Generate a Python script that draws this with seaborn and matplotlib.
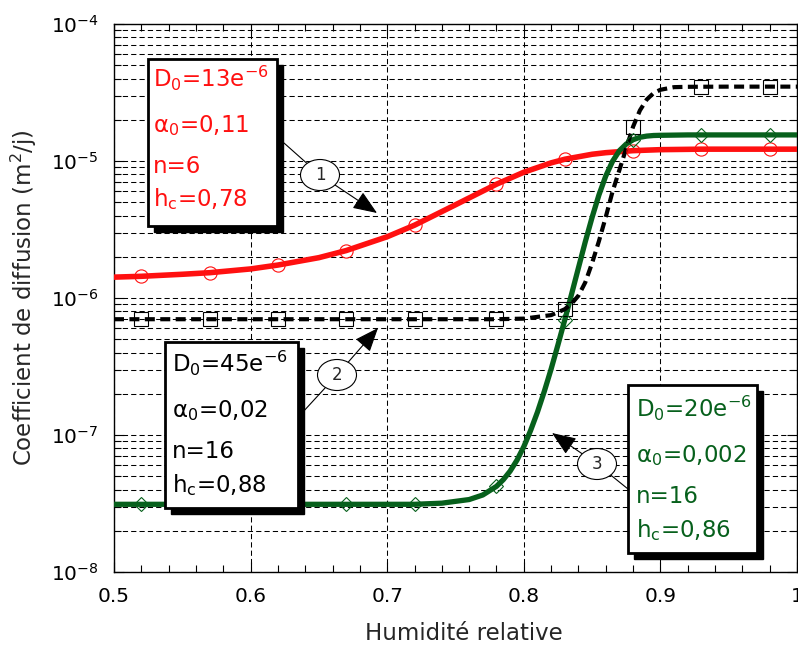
import math
import seaborn as sns
import matplotlib.pyplot as plt
from matplotlib.patches import Rectangle, Ellipse, FancyArrowPatch
from matplotlib.lines import Line2D
from matplotlib.ticker import MultipleLocator, LogLocator, FuncFormatter, NullFormatter

# Courbes (humidité relative -> coefficient de diffusion)
h_rouge = [0.50, 0.52, 0.55, 0.57, 0.60, 0.62, 0.65, 0.67, 0.70, 0.72, 0.75, 0.78,
           0.80, 0.82, 0.83, 0.85, 0.86, 0.88, 0.90, 0.93, 0.95, 0.98, 1.00]
d_rouge = [1.42e-6, 1.44e-6, 1.49e-6, 1.53e-6, 1.63e-6, 1.74e-6, 1.97e-6, 2.22e-6,
           2.80e-6, 3.40e-6, 4.79e-6, 6.77e-6, 8.28e-6, 9.69e-6, 1.03e-5, 1.12e-5,
           1.15e-5, 1.19e-5, 1.21e-5, 1.22e-5, 1.22e-5, 1.22e-5, 1.22e-5]

h_noir = [0.50, 0.55, 0.60, 0.65, 0.70, 0.75, 0.78, 0.80, 0.82, 0.83, 0.835, 0.84,
          0.845, 0.85, 0.855, 0.86, 0.865, 0.87, 0.875, 0.88, 0.885, 0.89, 0.895,
          0.90, 0.91, 0.92, 0.95, 0.98, 1.00]
d_noir = [7.0e-7, 7.0e-7, 7.0e-7, 7.0e-7, 7.0e-7, 7.0e-7, 7.0e-7, 7.07e-7, 7.5e-7,
          8.28e-7, 9.1e-7, 1.04e-6, 1.3e-6, 1.8e-6, 2.6e-6, 3.9e-6, 6.0e-6, 8.6e-6,
          1.24e-5, 1.78e-5, 2.34e-5, 2.81e-5, 3.13e-5, 3.31e-5, 3.46e-5, 3.48e-5,
          3.49e-5, 3.49e-5, 3.49e-5]

h_vert = [0.50, 0.55, 0.60, 0.65, 0.70, 0.72, 0.74, 0.76, 0.77, 0.78, 0.785, 0.79,
          0.795, 0.80, 0.805, 0.81, 0.815, 0.82, 0.825, 0.83, 0.835, 0.84, 0.845,
          0.85, 0.855, 0.86, 0.865, 0.87, 0.875, 0.88, 0.885, 0.89, 0.895, 0.90,
          0.92, 0.95, 0.98, 1.00]
d_vert = [3.12e-8, 3.12e-8, 3.12e-8, 3.12e-8, 3.12e-8, 3.12e-8, 3.18e-8, 3.38e-8,
          3.65e-8, 4.22e-8, 4.72e-8, 5.45e-8, 6.55e-8, 8.22e-8, 1.08e-7, 1.47e-7,
          2.08e-7, 3.03e-7, 4.55e-7, 6.93e-7, 1.07e-6, 1.66e-6, 2.57e-6, 3.88e-6,
          5.65e-6, 7.77e-6, 9.96e-6, 1.19e-5, 1.33e-5, 1.43e-5, 1.49e-5, 1.52e-5,
          1.535e-5, 1.54e-5, 1.55e-5, 1.55e-5, 1.55e-5, 1.55e-5]

# Points marqués sur les courbes
h_points = [0.52, 0.57, 0.62, 0.67, 0.72, 0.78, 0.83, 0.88, 0.93, 0.98]
rouge_points = [1.44e-6, 1.53e-6, 1.74e-6, 2.22e-6, 3.40e-6, 6.77e-6, 1.03e-5, 1.19e-5, 1.22e-5, 1.22e-5]
noir_points = [7.0e-7, 7.0e-7, 7.0e-7, 7.0e-7, 7.0e-7, 7.0e-7, 8.28e-7, 1.78e-5, 3.49e-5, 3.49e-5]
vert_points = [3.12e-8, 3.12e-8, 3.12e-8, 3.12e-8, 3.12e-8, 4.22e-8, 6.93e-7, 1.43e-5, 1.55e-5, 1.55e-5]

# Textes des encadrés
texte_1 = ["D$_0$=13e$^{-6}$", "α$_0$=0,11", "n=6", "h$_c$=0,78"]
texte_2 = ["D$_0$=45e$^{-6}$", "α$_0$=0,02", "n=16", "h$_c$=0,88"]
texte_3 = ["D$_0$=20e$^{-6}$", "α$_0$=0,002", "n=16", "h$_c$=0,86"]

ROUGE = "#ff1010"
VERT = "#07601c"
W, H = 798, 648


def P(x, y):
    # pixels (origine en haut à gauche) -> coordonnées figure
    return (x / W, 1 - y / H)


sns.set_style("ticks")
plt.rcParams["font.family"] = ["DejaVu Sans"]
plt.rcParams["mathtext.default"] = "regular"

fig = plt.figure(figsize=(W / 100, H / 100), dpi=100)
ax = fig.add_axes([114 / W, 1 - 572 / H, (797 - 114) / W, (572 - 24) / H])
ax.set_yscale("log")
ax.set_xlim(0.5, 1.0)
ax.set_ylim(1e-8, 1e-4)

# grille pointillée
grille = dict(color="black", lw=0.75, ls=(0, (5, 3)))
ax.grid(True, which="both", axis="y", **grille)
ax.grid(True, which="major", axis="x", **grille)
ax.set_axisbelow(True)

# courbes
sns.lineplot(x=h_rouge, y=d_rouge, ax=ax, color=ROUGE, lw=4, estimator=None, zorder=3)
sns.lineplot(x=h_vert, y=d_vert, ax=ax, color=VERT, lw=3.8, estimator=None, zorder=3)
sns.lineplot(x=h_noir, y=d_noir, ax=ax, color="black", lw=3, linestyle=(0, (2.4, 1.3)),
             estimator=None, zorder=4)

# marqueurs
sns.lineplot(x=h_points, y=rouge_points, ax=ax, color=ROUGE, marker="o", linestyle="",
             ms=9.5, mfc="none", mec=ROUGE, mew=0.8, estimator=None, zorder=5)
sns.lineplot(x=h_points, y=noir_points, ax=ax, color="black", marker="s", linestyle="",
             ms=10, mfc="none", mec="black", mew=0.8, estimator=None, zorder=5)
sns.lineplot(x=h_points, y=vert_points, ax=ax, color=VERT, marker="D", linestyle="",
             ms=7, mfc="none", mec=VERT, mew=0.8, estimator=None, zorder=5)

# axes et graduations
ax.xaxis.set_major_locator(MultipleLocator(0.1))
ax.xaxis.set_minor_locator(MultipleLocator(0.02))
ax.xaxis.set_major_formatter(FuncFormatter(lambda v, p: f"{v:g}"))
ax.yaxis.set_major_locator(LogLocator(base=10, numticks=10))
ax.yaxis.set_minor_locator(LogLocator(base=10, subs=range(2, 10), numticks=50))
ax.yaxis.set_major_formatter(FuncFormatter(lambda v, p: "$10^{%d}$" % round(math.log10(v))))
ax.yaxis.set_minor_formatter(NullFormatter())
ax.tick_params(which="both", direction="in", top=True, right=True, width=0.8, colors="black")
ax.tick_params(which="major", length=7, labelsize=14.5)
ax.tick_params(which="minor", length=5)
ax.tick_params(axis="x", which="major", pad=11)
ax.tick_params(axis="y", which="major", pad=11)
for s in ax.spines.values():
    s.set_linewidth(1)
    s.set_color("black")

ax.set_xlabel("Humidité relative", fontsize=16.5)
ax.set_ylabel("Coefficient de diffusion (m$^2$/j)", fontsize=16.5)
ax.xaxis.set_label_coords(0.512, -0.092)
ax.yaxis.set_label_coords(-0.110, 0.5)

# encadrés avec ombre
encadres = [
    ((148, 59, 277, 226), 153, [87, 132, 173, 206], texte_1, ROUGE),
    ((165, 342, 298, 508), 172, [372, 417, 458, 492], texte_2, "black"),
    ((628, 385, 757, 553), 636, [417, 462, 503, 537], texte_3, VERT),
]
for (x0, y0, x1, y1), xt, ys, lignes, coul in encadres:
    ax.add_patch(Rectangle(P(x0 + 6, y1 + 6), (x1 - x0) / W, (y1 - y0) / H,
                           transform=fig.transFigure, fc="black", ec="black",
                           clip_on=False, zorder=8))
    ax.add_patch(Rectangle(P(x0, y1), (x1 - x0) / W, (y1 - y0) / H,
                           transform=fig.transFigure, fc="white", ec="black", lw=2,
                           clip_on=False, zorder=9))
    for yt, s in zip(ys, lignes):
        ax.text(*P(xt, yt), s, transform=fig.transFigure, fontsize=16.5, color=coul,
                ha="left", va="baseline", zorder=10)

# bulles numérotées et flèches
bulles = [
    ("1", (320, 175), (284, 143), (377, 213)),
    ("2", (337, 375), (302, 413), (378, 328)),
    ("3", (597, 464), (628, 489), (552, 433)),
]
for lab, centre, depart, pointe in bulles:
    fig.add_artist(Line2D([P(*depart)[0], P(*centre)[0]], [P(*depart)[1], P(*centre)[1]],
                          transform=fig.transFigure, color="black", lw=0.8, zorder=11))
    fig.add_artist(FancyArrowPatch(P(*centre), P(*pointe), transform=fig.transFigure,
                                   arrowstyle="-|>,head_length=0.75,head_width=0.3",
                                   mutation_scale=20, lw=0.8, color="black",
                                   shrinkA=0, shrinkB=0, zorder=11))
    fig.add_artist(Ellipse(P(*centre), 39 / W, 31 / H, transform=fig.transFigure,
                           fc="white", ec="black", lw=0.8, zorder=12))
    fig.text(*P(*centre), lab, fontsize=12, ha="center", va="center", zorder=13)

fig.savefig("out.png", dpi=100)
